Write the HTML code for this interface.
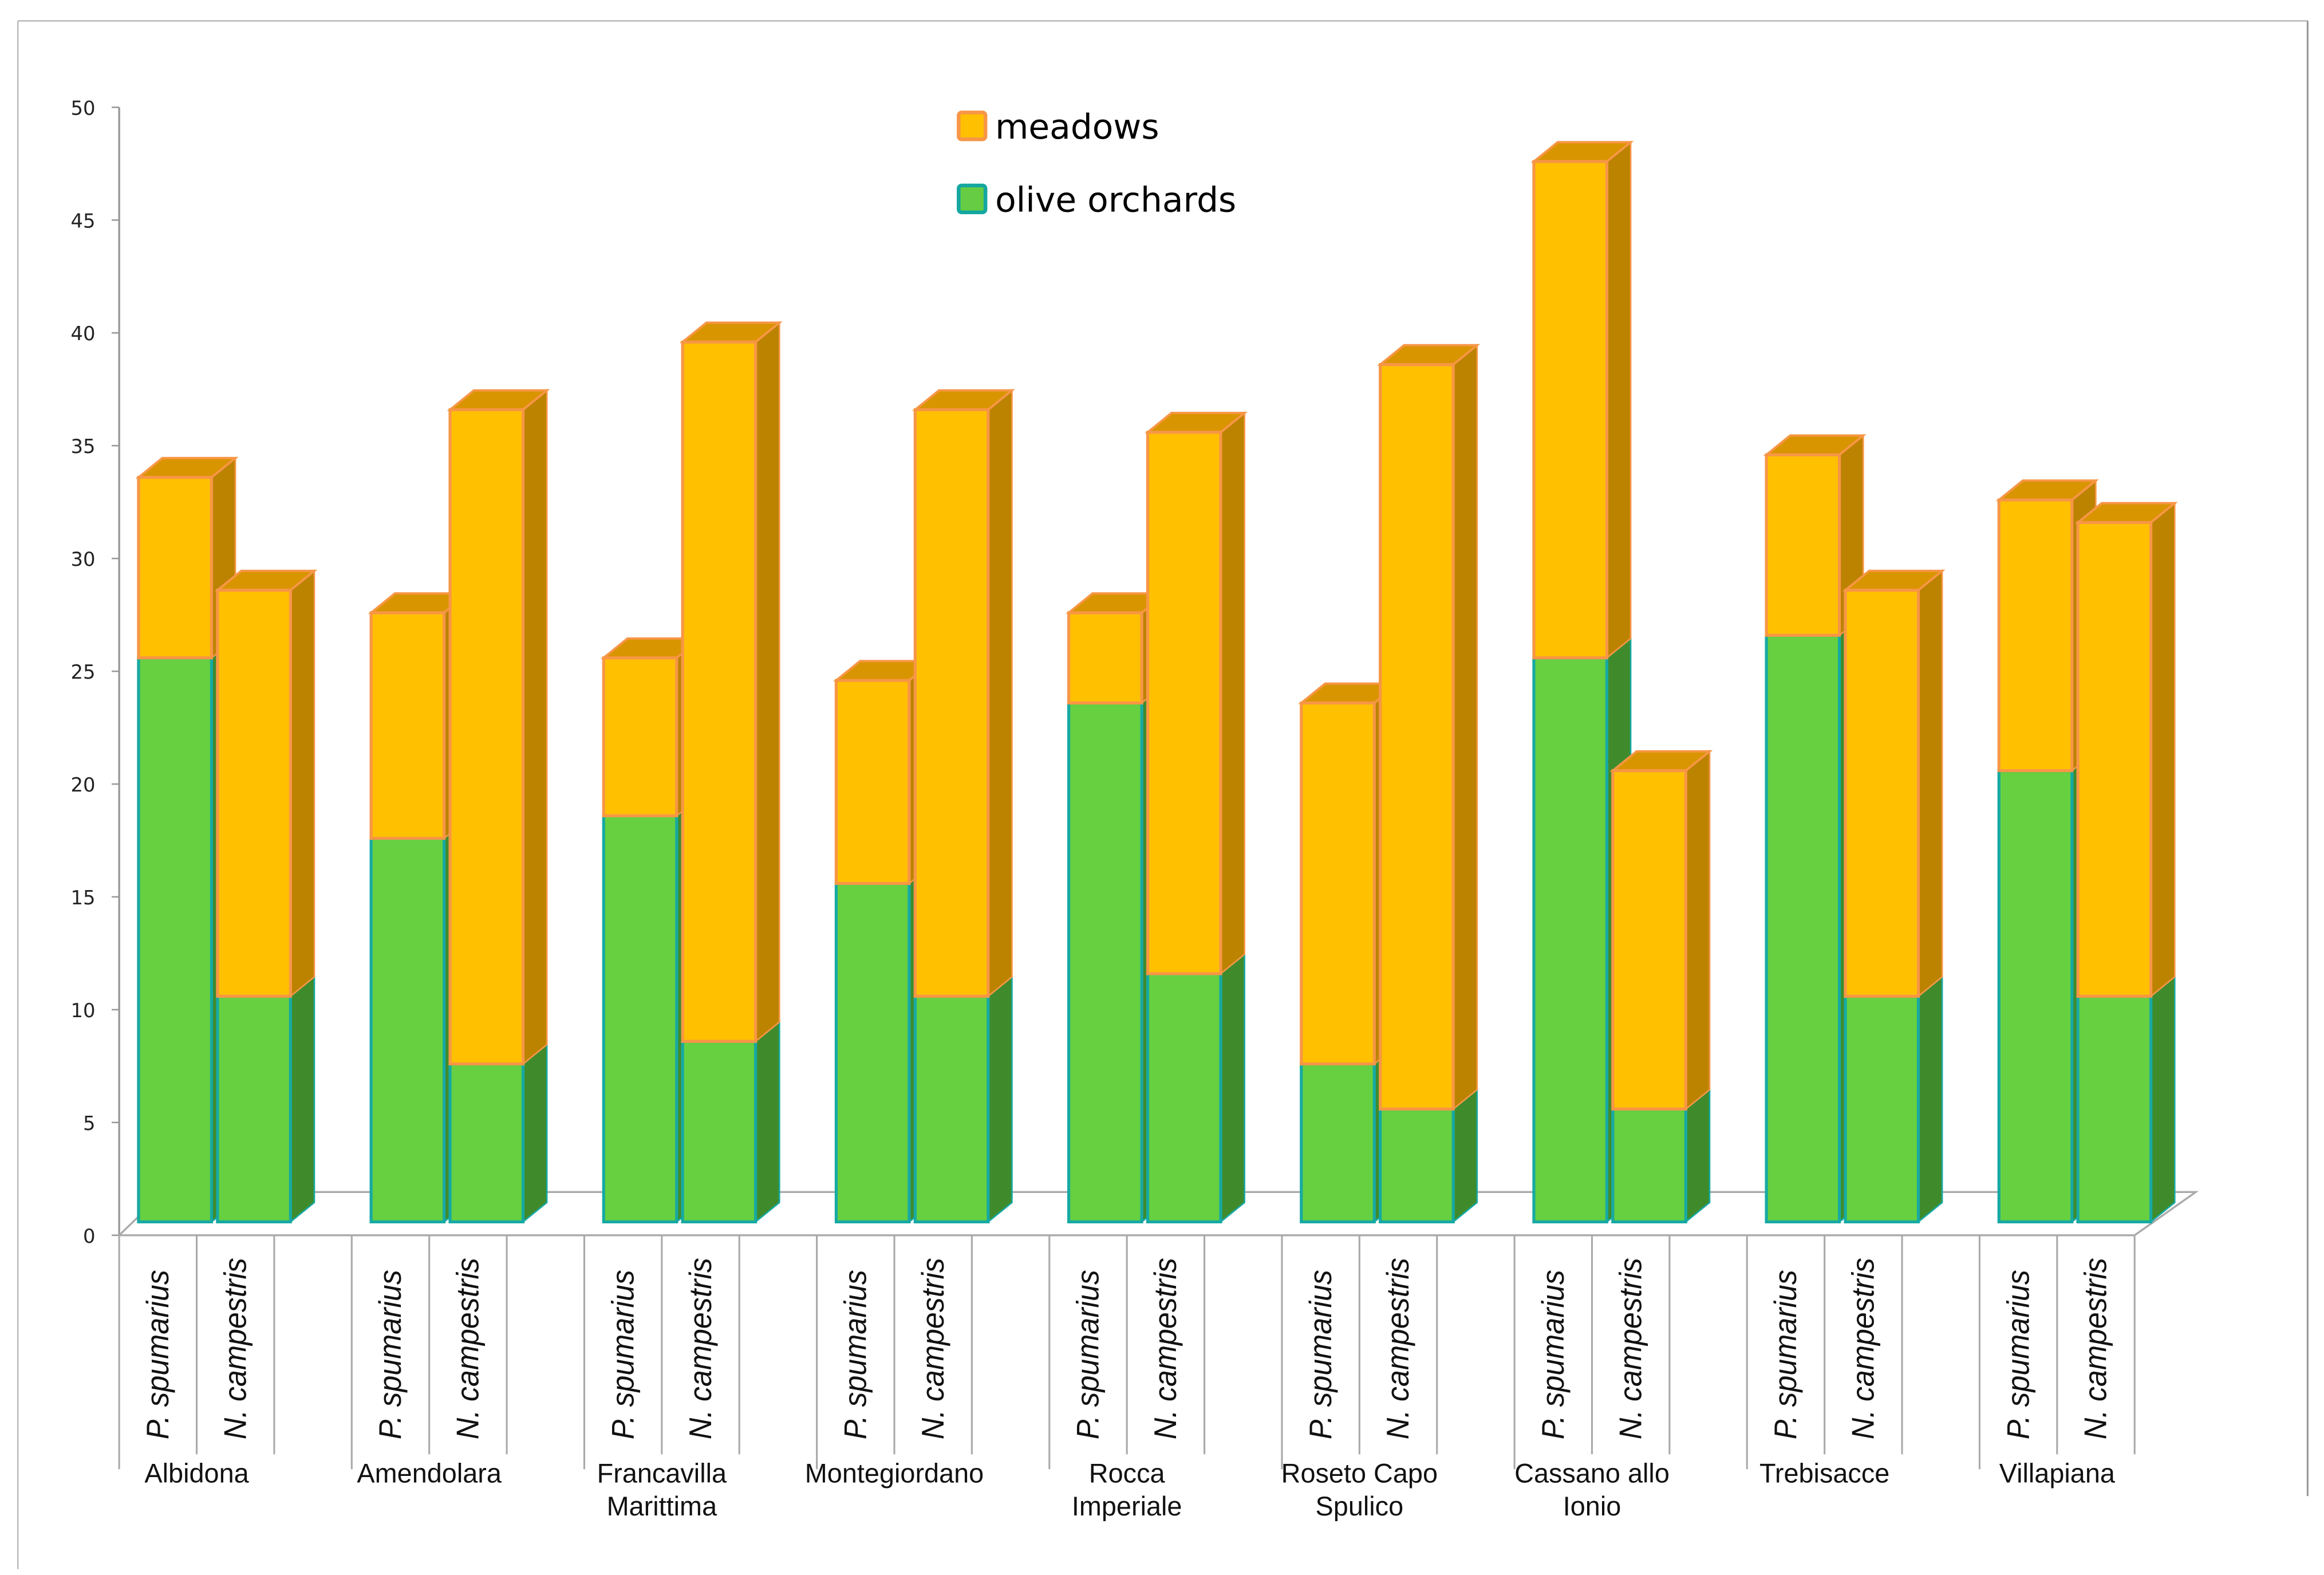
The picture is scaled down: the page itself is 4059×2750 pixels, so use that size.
<!DOCTYPE html>
<html><head><meta charset="utf-8"><style>
html,body{margin:0;padding:0;background:#fff;}
svg{display:block;}
text{font-family:"Liberation Sans",sans-serif;}
</style></head><body>
<svg id="chart" width="4059" height="2750" viewBox="0 0 1560 1057" preserveAspectRatio="none" xmlns="http://www.w3.org/2000/svg">
<g id="frame">
<line x1="12" y1="14" x2="1549" y2="14" stroke="#bbb" stroke-width="1"/>
<line x1="12" y1="14" x2="12" y2="1053" stroke="#bbb" stroke-width="1"/>
<line x1="1549" y1="14" x2="1549" y2="1004" stroke="#999" stroke-width="1.2"/>
</g>
<g id="axes"></g>
<g id="bars"></g>
<g id="xlabels"></g>
<g id="legend">
<g>
<rect x="643.5" y="75.5" width="18" height="18" rx="2" fill="#FFC000" stroke="#F79646" stroke-width="2.5"/>
<text x="668" y="93" font-size="23" fill="#000" style="font-family:'DejaVu Sans','Liberation Sans',sans-serif">meadows</text>
</g>
<g>
<rect x="643.5" y="124.5" width="18" height="18" rx="2" fill="#66CC44" stroke="#14A7A0" stroke-width="2.5"/>
<text x="668" y="142" font-size="23" fill="#000" style="font-family:'DejaVu Sans','Liberation Sans',sans-serif">olive orchards</text>
</g>
</g>
</svg>
<script>
const towns = ["Albidona","Amendolara","Francavilla|Marittima","Montegiordano","Rocca|Imperiale","Roseto Capo|Spulico","Cassano allo|Ionio","Trebisacce","Villapiana"];
const species = ["P. spumarius","N. campestris"];
const oliveP = [25,17,18,15,23,7,25,26,20];
const meadowP = [8,10,7,9,4,16,22,8,12];
const oliveN = [10,7,8,10,11,5,5,10,10];
const meadowN = [18,29,31,26,24,33,15,18,21];
const yTicks = [0,5,10,15,20,25,30,35,40,45,50];

const NS = "http://www.w3.org/2000/svg";
function mk(tag, attrs, parent){const e=document.createElementNS(NS,tag);for(const k in attrs)e.setAttribute(k,attrs[k]);parent.appendChild(e);return e;}
const axisY0 = 829, axisY50 = 72;
function yAxis(v){return axisY0 - v*(axisY0-axisY50)/50;}
const barBase = 820, unit = (axisY0-axisY50)/50;
function yBar(v){return barBase - v*unit;}
const groupStep = 156.1, slotW = groupStep/3, x0 = 80;
function xBar(g,s){return 93 + g*groupStep + s*53;}
const BW = 49, DX = 16, DY = -13;

const axes = document.getElementById('axes');
mk('line',{x1:80,y1:72,x2:80,y2:829,stroke:'#999','stroke-width':1.3},axes);
yTicks.forEach(t=>{
  const y=yAxis(t);
  mk('line',{x1:75,y1:y,x2:80,y2:y,stroke:'#999','stroke-width':1},axes);
  const tx=mk('text',{x:64,y:y+5,'font-size':13,'text-anchor':'end',fill:'#222',style:"font-family:'DejaVu Sans','Liberation Sans',sans-serif"},axes);
  tx.textContent=t;
  
  
});
const nG = towns.length;
const xEnd = x0 + nG*groupStep - 52;
mk('polyline',{points:`${x0},829 ${xEnd},829 ${xEnd+41},800 ${x0+30},800 ${x0},829`,fill:'none',stroke:'#aaa','stroke-width':1.3},axes);

const bars = document.getElementById('bars');
function seg(parent,x,yt,yb,front,stroke,side,top,drawTop){
  mk('polygon',{points:`${x+BW},${yt} ${x+BW+DX},${yt+DY} ${x+BW+DX},${yb+DY} ${x+BW},${yb}`,fill:side,stroke:stroke,'stroke-width':1},parent);
  if(drawTop) mk('polygon',{points:`${x},${yt} ${x+DX},${yt+DY} ${x+BW+DX},${yt+DY} ${x+BW},${yt}`,fill:top,stroke:stroke,'stroke-width':1.5},parent);
  mk('rect',{x:x,y:yt,width:BW,height:yb-yt,fill:front,stroke:stroke,'stroke-width':2},parent);
}
for(let g=0;g<nG;g++){
  [[oliveP[g],meadowP[g]],[oliveN[g],meadowN[g]]].forEach((pair,s)=>{
    const grp=mk('g',{},bars);
    
    
    const x=xBar(g,s);
    const yG=yBar(pair[0]), yT=yBar(pair[0]+pair[1]);
    seg(grp,x,yG,barBase,'#66D040','#17A9A3','#3F8B2C','#4A9E30',false);
    seg(grp,x,yT,yG,'#FFC000','#F79646','#BC8300','#D99500',true);
  });
}
const xl = document.getElementById('xlabels');
for(let g=0;g<nG;g++){
  const gx = x0 + g*groupStep;
  for(let k=0;k<3;k++){
    const lx=gx+k*slotW;
    const ln=mk('line',{x1:lx,y1:829,x2:lx,y2:k==0?986:976,stroke:'#aaa','stroke-width':1.2},xl);
    
    
  }
  species.forEach((sp,s)=>{
    const cx=gx+s*slotW+slotW/2+7;
    const t=mk('text',{x:0,y:0,'font-size':21,'font-style':'italic',fill:'#111',transform:`translate(${cx},966) rotate(-90) scale(0.95,1)`},xl);
    t.textContent=sp;
    
    
  });
  const lines=towns[g].split('|');
  lines.forEach((l,i)=>{
    const t=mk('text',{x:gx+slotW,y:995+i*22,'font-size':18,'text-anchor':'middle',fill:'#111'},xl);
    t.textContent=l;
    
    
  });
}
</script>
</body></html>
